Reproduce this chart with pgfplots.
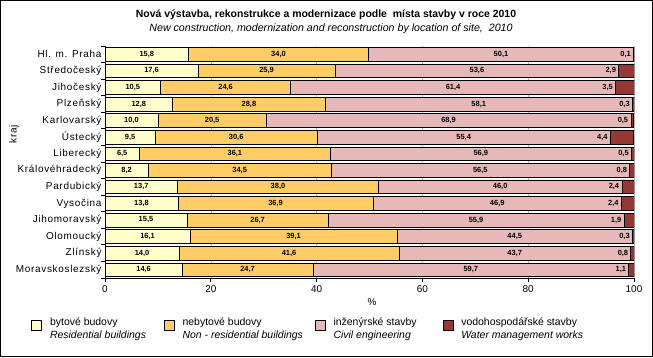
\documentclass[border=0pt]{standalone}
\usepackage{pgfplots}
\pgfplotsset{compat=1.18}
\usepackage{fontspec}
\setmainfont{Liberation Sans}
\newfontfamily\catfont[LetterSpace=7]{Liberation Sans}
\definecolor{cA}{HTML}{FFFFCC}
\definecolor{cB}{HTML}{FFCC66}
\definecolor{cC}{HTML}{E6B9B8}
\definecolor{cD}{HTML}{953735}
\begin{document}
\begin{tikzpicture}[x=1bp,y=1bp]
\useasboundingbox (0,0) rectangle (653,357);
\fill[white] (0,0) rectangle (653,357);
\draw[black, line width=1bp] (0.5,0.5) rectangle (652.5,356.5);
\node[font=\bfseries\fontsize{10.5}{12}\selectfont] at (326,342) {Nová výstavba, rekonstrukce a modernizace podle\ \ místa stavby v roce 2010};
\node[font=\itshape\fontsize{10.7}{12}\selectfont] at (331,328) {New construction, modernization and reconstruction by location of site,\ \ 2010};
\begin{axis}[
  at={(105bp,79bp)}, anchor=south west, scale only axis,
  width=529bp, height=232bp,
  xmin=0, xmax=100, ymin=-0.5, ymax=13.5, y dir=reverse,
  xbar stacked, bar width=0.83,
  axis x line*=bottom, axis y line*=left,
  axis line style={-, line width=0.8bp, black},
  tick align=outside,
  xtick={0,20,...,100},
  ytick={-0.5,0.5,...,13.5}, yticklabels={},
  extra y ticks={0,...,13},
  extra y tick labels={Hl. m. Praha,Středočeský,Jihočeský,Plzeňský,Karlovarský,Ústecký,Liberecký,Královéhradecký,Pardubický,Vysočina,Jihomoravský,Olomoucký,Zlínský,Moravskoslezský},
  extra y tick style={major tick length=0pt, tick label style={font=\catfont\fontsize{10}{12}\selectfont}},
  major tick length=4bp,
  tick style={black, line width=0.8bp},
  xmajorgrids, grid style={gray!55, line width=0.6bp},
  tick label style={font=\fontsize{10}{12}\selectfont},
  /pgf/number format/assume math mode=true,
  xlabel={\%}, xlabel style={at={(axis description cs:0.505,-0.103)}, anchor=center, font=\fontsize{10}{12}\selectfont},
  ylabel={kraj}, ylabel style={at={(axis description cs:-0.172,0.621)}, anchor=center, font=\catfont\fontsize{10}{12}\selectfont},
  legend columns=4,
  legend style={at={(axis description cs:-0.145,-0.155)}, anchor=north west, draw=none, fill=none,
    font=\fontsize{10.5}{12.5}\selectfont, cells={anchor=west, align=left},
    /tikz/column 2/.style={column sep=16bp},
    /tikz/column 4/.style={column sep=10bp},
    /tikz/column 6/.style={column sep=24bp}},
  legend image code/.code={\draw[#1, draw=black, line width=0.6bp] (0bp,-1bp) rectangle (10bp,9bp); \path (16bp,0bp);},
]
\addplot[fill=cA, draw=black, line width=0.6bp] coordinates {(15.8,0) (17.6,1) (10.5,2) (12.8,3) (10.0,4) (9.5,5) (6.5,6) (8.2,7) (13.7,8) (13.8,9) (15.5,10) (16.1,11) (14.0,12) (14.6,13)};
\addlegendentry{bytové budovy\\\textit{Residential buildings}}
\addplot[fill=cB, draw=black, line width=0.6bp] coordinates {(34.0,0) (25.9,1) (24.6,2) (28.8,3) (20.5,4) (30.6,5) (36.1,6) (34.5,7) (38.0,8) (36.9,9) (26.7,10) (39.1,11) (41.6,12) (24.7,13)};
\addlegendentry{nebytové budovy\\\textit{Non - residential buildings}}
\addplot[fill=cC, draw=black, line width=0.6bp] coordinates {(50.1,0) (53.6,1) (61.4,2) (58.1,3) (68.9,4) (55.4,5) (56.9,6) (56.5,7) (46.0,8) (46.9,9) (55.9,10) (44.5,11) (43.7,12) (59.7,13)};
\addlegendentry{inženýrské stavby\\\textit{Civil engineering}}
\addplot[fill=cD, draw=black, line width=0.6bp] coordinates {(0.1,0) (2.9,1) (3.5,2) (0.3,3) (0.5,4) (4.4,5) (0.5,6) (0.8,7) (2.4,8) (2.4,9) (1.9,10) (0.3,11) (0.8,12) (1.1,13)};
\addlegendentry{vodohospodářské stavby\\\textit{Water management works}}
\end{axis}
\begin{axis}[
  at={(105bp,79bp)}, anchor=south west, scale only axis,
  width=529bp, height=232bp,
  xmin=0, xmax=100, ymin=-0.5, ymax=13.5, y dir=reverse,
  hide axis, clip=false,
  nodes near coords, point meta=explicit symbolic,
  every node near coord/.append style={font=\bfseries\fontsize{7.5}{9}\selectfont, anchor=center, inner sep=0pt},
]
\addplot[draw=none, mark=none] table[meta=l] {
x y l
7.9 0 15,8
8.8 1 17,6
5.25 2 10,5
6.4 3 12,8
5.0 4 10,0
4.75 5 9,5
3.25 6 6,5
4.1 7 8,2
6.85 8 13,7
6.9 9 13,8
7.75 10 15,5
8.05 11 16,1
7.0 12 14,0
7.3 13 14,6
};
\addplot[draw=none, mark=none] table[meta=l] {
x y l
32.8 0 34,0
30.55 1 25,9
22.8 2 24,6
27.2 3 28,8
20.25 4 20,5
24.8 5 30,6
24.55 6 36,1
25.45 7 34,5
32.7 8 38,0
32.25 9 36,9
28.85 10 26,7
35.65 11 39,1
34.8 12 41,6
26.95 13 24,7
};
\addplot[draw=none, mark=none] table[meta=l] {
x y l
74.85 0 50,1
70.3 1 53,6
65.8 2 61,4
70.65 3 58,1
64.95 4 68,9
67.8 5 55,4
71.05 6 56,9
70.95 7 56,5
74.7 8 46,0
74.15 9 46,9
70.15 10 55,9
77.45 11 44,5
77.45 12 43,7
69.15 13 59,7
};
\addplot[draw=none, mark=none, every node near coord/.append style={anchor=east, xshift=-2.5bp}] table[meta=l] {
x y l
99.9 0 0,1
97.1 1 2,9
96.5 2 3,5
99.7 3 0,3
99.4 4 0,5
95.5 5 4,4
99.5 6 0,5
99.2 7 0,8
97.7 8 2,4
97.6 9 2,4
98.1 10 1,9
99.7 11 0,3
99.4 12 0,8
99.0 13 1,1
};
\end{axis}
\end{tikzpicture}
\end{document}
